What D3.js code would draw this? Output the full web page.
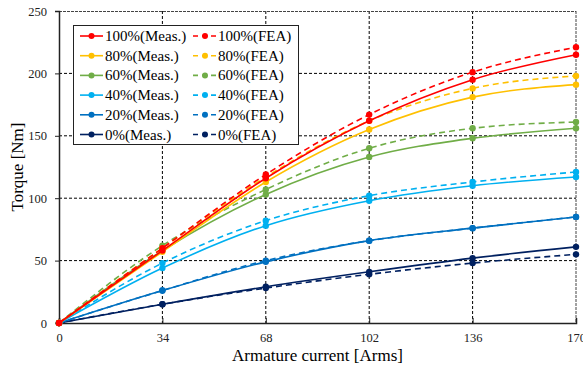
<!DOCTYPE html>
<html>
<head>
<meta charset="utf-8">
<script src="https://cdn.jsdelivr.net/npm/d3@7"></script>
<style>
  body { margin: 0; background: #fff; }
</style>
</head>
<body>
<div id="chart"></div>
<script>
// chart data
var current = [0, 34, 68, 102, 136, 170];
var xTicks = [0, 34, 68, 102, 136, 170];
var yTicks = [0, 50, 100, 150, 200, 250];

var levels = ["100%", "80%", "60%", "40%", "20%", "0%"];
var colors = ["#FF0000", "#FFC000", "#70AD47", "#00B0F0", "#0070C0", "#002060"];

var meas100 = [0, 58, 116, 162, 195, 215];
var fea100 = [0, 60, 119, 167, 201, 221];
var meas80 = [0, 57, 113, 155, 181, 191];
var fea80 = [0, 60, 117, 162, 188, 198];
var meas60 = [0, 58, 103, 133, 148, 156];
var fea60 = [0, 62, 107, 140, 156, 161];
var meas40 = [0, 44, 78, 98, 110, 117];
var fea40 = [0, 48, 82, 102, 113, 121];
var meas20 = [0, 26, 49, 66, 76, 85];
var fea20 = [0, 26, 50, 66, 76, 85];
var meas0 = [0, 15, 29, 41, 52, 61];
var fea0 = [0, 15, 28, 39, 48, 55];

var measSeries = [meas100, meas80, meas60, meas40, meas20, meas0];
var feaSeries = [fea100, fea80, fea60, fea40, fea20, fea0];

var serif = "'Liberation Serif', 'Times New Roman', 'DejaVu Serif', serif";

//svg dimensions
var svgWidth = 583;
var svgHeight = 365;
var margin = { top: 11, right: 8, bottom: 42, left: 59 };
var width = 576 - margin.left;
var height = 323 - margin.top;

var svg = d3.select("#chart").append("svg")
    .attr("width", svgWidth)
    .attr("height", svgHeight)
    .style("font-family", serif);

var g = svg.append("g")
    .attr("transform", `translate(${margin.left}, ${margin.top})`);

var x = d3.scaleLinear().domain([0, 170]).range([0, width]);
var y = d3.scaleLinear().domain([0, 250]).range([height, 0]);

// gridlines
g.selectAll(".hgrid")
    .data(yTicks.filter(d => d > 0 && d < 250))
    .enter().append("line")
    .attr("x1", 0).attr("x2", width)
    .attr("y1", d => y(d)).attr("y2", d => y(d))
    .attr("stroke", "#000").attr("stroke-width", 1)
    .attr("stroke-dasharray", "3,2");
g.selectAll(".vgrid")
    .data(xTicks.filter(d => d > 0 && d < 170))
    .enter().append("line")
    .attr("x1", d => x(d)).attr("x2", d => x(d))
    .attr("y1", 0).attr("y2", height)
    .attr("stroke", "#000").attr("stroke-width", 1)
    .attr("stroke-dasharray", "3,2");

// top and right border (dashed)
g.append("line").attr("x1", 0).attr("x2", width).attr("y1", 0.5).attr("y2", 0.5)
    .attr("stroke", "#444").attr("stroke-dasharray", "3,1");
g.append("line").attr("x1", width).attr("x2", width).attr("y1", 0).attr("y2", height)
    .attr("stroke", "#444").attr("stroke-dasharray", "3,1");

// axes
var xAxis = g.append("g")
    .attr("transform", `translate(0, ${height})`)
    .call(d3.axisBottom(x).tickValues(xTicks).tickSize(-5).tickPadding(10));
var yAxis = g.append("g")
    .call(d3.axisLeft(y).tickValues(yTicks).tickSize(4).tickPadding(8));
[xAxis, yAxis].forEach(function (ax) {
    ax.attr("font-family", null);
    ax.select(".domain").attr("stroke", "#222").attr("stroke-width", 1.5);
    ax.selectAll(".tick line").attr("stroke", "#222");
    ax.selectAll("text")
        .style("font-family", serif)
        .style("font-size", "12.5px")
        .attr("fill", "#222");
});
xAxis.select(".tick:first-of-type line").remove();

// axis titles
svg.append("text")
    .attr("x", margin.left + width / 2)
    .attr("y", 361)
    .attr("text-anchor", "middle")
    .style("font-size", "17px")
    .text("Armature current [Arms]");
svg.append("text")
    .attr("transform", `translate(23, ${margin.top + height / 2}) rotate(-90)`)
    .attr("text-anchor", "middle")
    .style("font-size", "17px")
    .text("Torque [Nm]");

// lines
var line = d3.line()
    .x((d, i) => x(current[i]))
    .y(d => y(d))
    .curve(d3.curveMonotoneX);

function drawSeries(data, color, dashed) {
    g.append("path")
        .datum(data)
        .attr("fill", "none")
        .attr("stroke", color)
        .attr("stroke-width", 1.6)
        .attr("stroke-dasharray", dashed ? "6,4" : null)
        .attr("d", line);
    g.selectAll(null)
        .data(data)
        .enter().append("circle")
        .attr("cx", (d, i) => x(current[i]))
        .attr("cy", d => y(d))
        .attr("r", 3.2)
        .attr("fill", color);
}

// draw bottom series first so red is on top
for (var i = levels.length - 1; i >= 0; i--) {
    drawSeries(feaSeries[i], colors[i], true);
    drawSeries(measSeries[i], colors[i], false);
}

// legend
var legend = svg.append("g");
legend.append("rect")
    .attr("x", 73.5).attr("y", 25.5)
    .attr("width", 225).attr("height", 119)
    .attr("fill", "#fff")
    .attr("stroke", "#222").attr("stroke-width", 1);

levels.forEach(function (lv, i) {
    var ly = 36 + i * 19.7;
    // measured column
    legend.append("line")
        .attr("x1", 80).attr("x2", 103).attr("y1", ly).attr("y2", ly)
        .attr("stroke", colors[i]).attr("stroke-width", 1.6);
    legend.append("circle").attr("cx", 91.5).attr("cy", ly).attr("r", 3).attr("fill", colors[i]);
    legend.append("text")
        .attr("x", 105).attr("y", ly + 5)
        .style("font-size", "15px")
        .text(lv + "(Meas.)");
    // FEA column
    legend.append("line")
        .attr("x1", 193).attr("x2", 217).attr("y1", ly).attr("y2", ly)
        .attr("stroke", colors[i]).attr("stroke-width", 1.6)
        .attr("stroke-dasharray", "5,4");
    legend.append("circle").attr("cx", 205).attr("cy", ly).attr("r", 3).attr("fill", colors[i]);
    legend.append("text")
        .attr("x", 218).attr("y", ly + 5)
        .style("font-size", "15px")
        .text(lv + "(FEA)");
});
</script>
</body>
</html>
